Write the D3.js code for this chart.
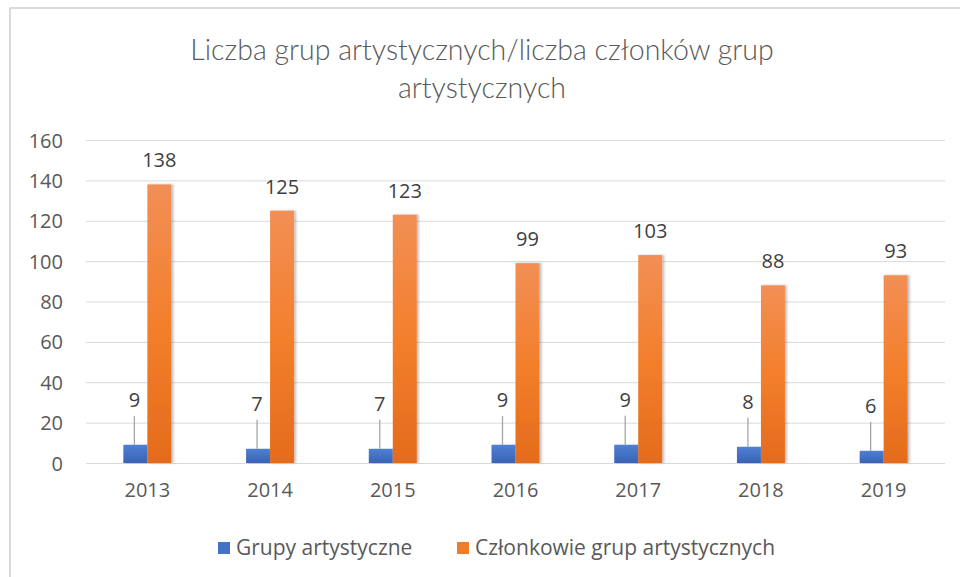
<!DOCTYPE html>
<html>
<head>
<meta charset="utf-8">
<script src="https://cdnjs.cloudflare.com/ajax/libs/d3/7.8.5/d3.min.js"></script>
<style>
  body { margin: 0; background: #fff; }
  text { font-family: "Open Sans", sans-serif; fill: #595959; }
</style>
</head>
<body>
<div id="chart"></div>
<script>
// data
var years = ["2013", "2014", "2015", "2016", "2017", "2018", "2019"];
var grupy = [9, 7, 7, 9, 9, 8, 6];
var czlonkowie = [138, 125, 123, 99, 103, 88, 93];
var yTicks = [0, 20, 40, 60, 80, 100, 120, 140, 160];
var seriesNames = ["Grupy artystyczne", "Członkowie grup artystycznych"];
var titleLines = ["Liczba grup artystycznych/liczba członków grup", "artystycznych"];

var svgWidth = 960;
var svgHeight = 577;

var margin = { top: 140, right: 15, bottom: 114, left: 86 };
var width = svgWidth - margin.left - margin.right;
var height = svgHeight - margin.top - margin.bottom;

var svg = d3.select("#chart")
  .append("svg")
  .attr("width", svgWidth)
  .attr("height", svgHeight);

// gradients + shadow for the bars
var defs = svg.append("defs");
function grad(id, top, mid, bottom) {
  var g = defs.append("linearGradient").attr("id", id)
    .attr("x1", 0).attr("y1", 0).attr("x2", 0).attr("y2", 1);
  g.append("stop").attr("offset", "0%").attr("stop-color", top);
  g.append("stop").attr("offset", "50%").attr("stop-color", mid);
  g.append("stop").attr("offset", "100%").attr("stop-color", bottom);
}
grad("gBlue", "#4f7fd3", "#4472c4", "#3a63b3");
grad("gOrange", "#f28f55", "#f37f2c", "#e46b1c");
defs.append("filter").attr("id", "shadow")
  .attr("x", "-20%").attr("y", "-5%").attr("width", "150%").attr("height", "110%")
  .append("feDropShadow")
  .attr("dx", 2).attr("dy", 0).attr("stdDeviation", 1.2)
  .attr("flood-color", "#000").attr("flood-opacity", 0.25);

// chart border (top and left edge visible)
svg.append("line").attr("x1", 10).attr("x2", svgWidth).attr("y1", 8).attr("y2", 8)
  .attr("stroke", "#d9d9d9").attr("stroke-width", 2);
svg.append("line").attr("x1", 10).attr("x2", 10).attr("y1", 8).attr("y2", svgHeight)
  .attr("stroke", "#d9d9d9").attr("stroke-width", 2);

// title
svg.append("g").selectAll("text")
  .data(titleLines)
  .enter()
  .append("text")
  .attr("x", 482)
  .attr("y", function(d, i) { return 60 + i * 38; })
  .attr("text-anchor", "middle")
  .style("font-family", "Lato, sans-serif")
  .style("font-weight", 300)
  .style("font-size", "28.5px")
  .style("fill", "#595959")
  .text(function(d) { return d; });

var chart = svg.append("g")
  .attr("transform", `translate(${margin.left}, ${margin.top})`);

var x = d3.scaleBand().domain(years).range([0, width]);
var y = d3.scaleLinear().domain([0, 160]).range([height, 0]);
var barW = 24;

// gridlines
chart.append("g")
  .call(d3.axisLeft(y).tickValues(yTicks).tickSize(-width).tickFormat(""))
  .call(function(g) { g.select(".domain").remove(); })
  .selectAll("line")
  .attr("stroke", "#d9d9d9");

// y labels
chart.append("g")
  .attr("transform", "translate(-20, 0)")
  .call(d3.axisLeft(y).tickValues(yTicks).tickSize(0))
  .call(function(g) { g.select(".domain").remove(); })
  .selectAll("text")
  .attr("dy", "0.35em")
  .style("font-size", "20px")
  .style("fill", "#595959");

// x labels
chart.append("g")
  .attr("transform", `translate(0, ${height})`)
  .call(d3.axisBottom(x).tickSize(0).tickPadding(20))
  .call(function(g) { g.select(".domain").remove(); })
  .selectAll("text")
  .style("font-size", "20px")
  .style("fill", "#595959");

var idx = d3.range(years.length);

// blue bars
chart.append("g").selectAll("rect")
  .data(idx)
  .enter()
  .append("rect")
  .attr("x", function(i) { return x(years[i]) + x.bandwidth() / 2 - barW; })
  .attr("y", function(i) { return y(grupy[i]); })
  .attr("width", barW)
  .attr("height", function(i) { return height - y(grupy[i]); })
  .attr("fill", "url(#gBlue)")
  .attr("filter", "url(#shadow)");

// orange bars
chart.append("g").selectAll("rect")
  .data(idx)
  .enter()
  .append("rect")
  .attr("x", function(i) { return x(years[i]) + x.bandwidth() / 2; })
  .attr("y", function(i) { return y(czlonkowie[i]); })
  .attr("width", barW)
  .attr("height", function(i) { return height - y(czlonkowie[i]); })
  .attr("fill", "url(#gOrange)")
  .attr("filter", "url(#shadow)");

// orange value labels
chart.append("g").selectAll("text")
  .data(idx)
  .enter()
  .append("text")
  .attr("x", function(i) { return x(years[i]) + x.bandwidth() / 2 + barW / 2; })
  .attr("y", function(i) { return y(czlonkowie[i]) - 17; })
  .attr("text-anchor", "middle")
  .style("font-size", "20px")
  .style("fill", "#404040")
  .text(function(i) { return czlonkowie[i]; });

// blue value labels pulled up with leader lines
var lbl = chart.append("g").selectAll("g")
  .data(idx)
  .enter()
  .append("g");
lbl.append("line")
  .attr("x1", function(i) { return x(years[i]) + x.bandwidth() / 2 - barW / 2 - 1; })
  .attr("x2", function(i) { return x(years[i]) + x.bandwidth() / 2 - barW / 2 - 1; })
  .attr("y1", function(i) { return y(grupy[i]); })
  .attr("y2", function(i) { return y(grupy[i]) - 29; })
  .attr("stroke", "#a6a6a6")
  .attr("stroke-width", 1.3);
lbl.append("text")
  .attr("x", function(i) { return x(years[i]) + x.bandwidth() / 2 - barW / 2 - 1; })
  .attr("y", function(i) { return y(grupy[i]) - 38; })
  .attr("text-anchor", "middle")
  .style("font-size", "20px")
  .style("fill", "#404040")
  .text(function(i) { return grupy[i]; });

// legend
var legendX = [218, 457];
var legendColors = ["#4472c4", "#f07d2a"];
var legend = svg.append("g").selectAll("g")
  .data(seriesNames)
  .enter()
  .append("g")
  .attr("transform", function(d, i) { return `translate(${legendX[i]}, 548)`; });
legend.append("rect")
  .attr("y", -6)
  .attr("width", 12)
  .attr("height", 12)
  .attr("fill", function(d, i) { return legendColors[i]; });
legend.append("text")
  .attr("x", 18)
  .attr("dy", "0.35em")
  .style("font-size", "21px")
  .text(function(d) { return d; });
</script>
</body>
</html>
